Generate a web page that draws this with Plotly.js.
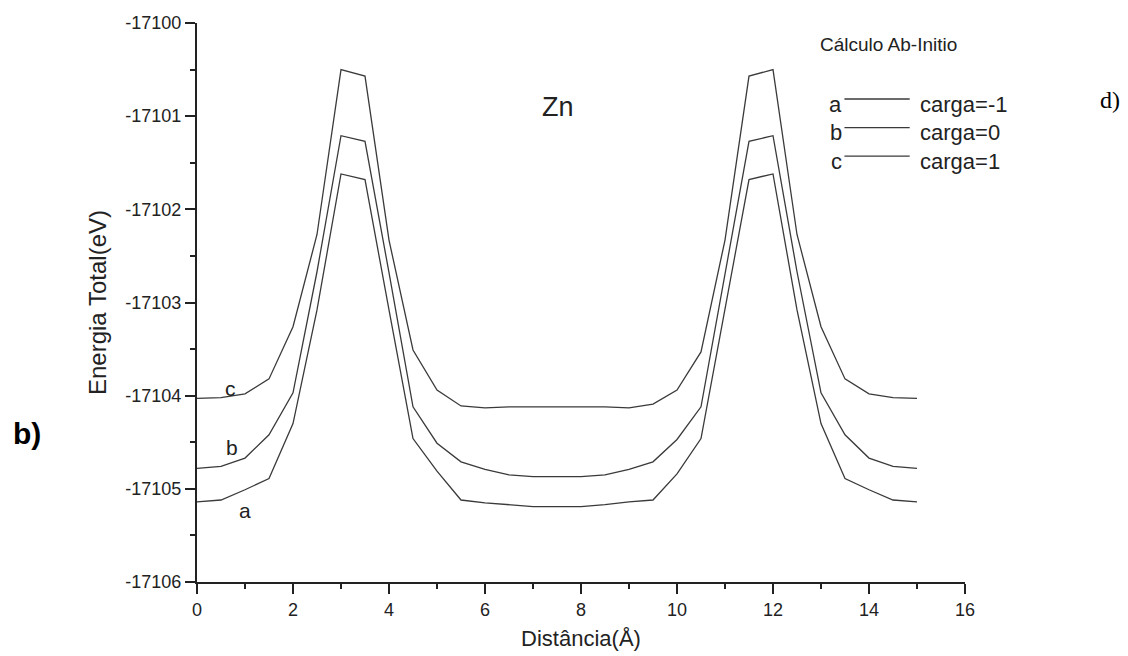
<!DOCTYPE html>
<html>
<head>
<meta charset="utf-8">
<script src="https://cdn.plot.ly/plotly-3.0.1.min.js"></script>
<style>
  html, body { margin: 0; padding: 0; background: #fff; }
  #chart { width: 1128px; height: 656px; }
</style>
</head>
<body>
<div id="chart"></div>
<script>
// Distance along the path (Å)
const distancia = [0, 0.5, 1, 1.5, 2, 2.5, 3, 3.5, 4, 4.5, 5, 5.5, 6, 6.5, 7, 7.5,
                   8, 8.5, 9, 9.5, 10, 10.5, 11, 11.5, 12, 12.5, 13, 13.5, 14, 14.5, 15];

// Total energy (eV), charge = -1  (curve a)
const energiaA = [-17105.14, -17105.12, -17105.01, -17104.89, -17104.30, -17103.08, -17101.62, -17101.68,
                  -17103.08, -17104.46, -17104.81, -17105.12, -17105.15, -17105.17, -17105.19, -17105.19,
                  -17105.19, -17105.17, -17105.14, -17105.12, -17104.84, -17104.46, -17103.08, -17101.68,
                  -17101.62, -17103.08, -17104.30, -17104.89, -17105.01, -17105.12, -17105.14];

// Total energy (eV), charge = 0  (curve b)
const energiaB = [-17104.78, -17104.76, -17104.67, -17104.42, -17103.97, -17102.67, -17101.21, -17101.27,
                  -17102.68, -17104.12, -17104.51, -17104.71, -17104.79, -17104.85, -17104.87, -17104.87,
                  -17104.87, -17104.85, -17104.79, -17104.71, -17104.47, -17104.12, -17102.68, -17101.27,
                  -17101.21, -17102.67, -17103.97, -17104.42, -17104.67, -17104.76, -17104.78];

// Total energy (eV), charge = 1  (curve c)
const energiaC = [-17104.03, -17104.02, -17103.98, -17103.82, -17103.26, -17102.27, -17100.50, -17100.57,
                  -17102.33, -17103.51, -17103.94, -17104.11, -17104.13, -17104.12, -17104.12, -17104.12,
                  -17104.12, -17104.12, -17104.13, -17104.09, -17103.94, -17103.53, -17102.33, -17100.57,
                  -17100.50, -17102.27, -17103.26, -17103.82, -17103.98, -17104.02, -17104.03];

const curveNames = ['a', 'b', 'c'];
const curveLabels = ['carga=-1', 'carga=0', 'carga=1'];

const yTickVals = [-17106, -17105, -17104, -17103, -17102, -17101, -17100];
const yTickText = ['-17106', '-17105', '-17104', '-17103', '-17102', '-17101', '-17100'];

const FONT = 'Liberation Sans, Arial, Helvetica, sans-serif';
const INK = '#222222';
const LINE = '#3a3a3a';

const series = [energiaA, energiaB, energiaC];
const traces = series.map((ys, i) => ({
  type: 'scatter',
  mode: 'lines',
  x: distancia,
  y: ys,
  name: curveLabels[i],
  line: { color: LINE, width: 1.3 },
  hoverinfo: 'x+y+name'
}));

// In-plot key rows (paper fractions of the plot area)
const keyRows = [0.855, 0.805, 0.753];
const keyLineRows = [0.864, 0.813, 0.762];

const annotations = [];
const shapes = [];

curveNames.forEach((nm, i) => {
  annotations.push({
    xref: 'paper', yref: 'paper', x: 0.843, y: keyRows[i],
    xanchor: 'right', yanchor: 'middle', showarrow: false,
    text: nm, font: { family: FONT, size: 22, color: INK }
  });
  annotations.push({
    xref: 'paper', yref: 'paper', x: 0.939, y: keyRows[i],
    xanchor: 'left', yanchor: 'middle', showarrow: false,
    text: curveLabels[i], font: { family: FONT, size: 22, color: INK }
  });
  shapes.push({
    type: 'line', xref: 'paper', yref: 'paper',
    x0: 0.843, x1: 0.928, y0: keyLineRows[i], y1: keyLineRows[i],
    line: { color: LINE, width: 1.3 }
  });
});

annotations.push(
  { xref: 'paper', yref: 'paper', x: 0.808, y: 0.962, xanchor: 'left', yanchor: 'middle',
    showarrow: false, text: 'Cálculo Ab-Initio', font: { family: FONT, size: 19, color: INK } },
  { xref: 'paper', yref: 'paper', x: 0.470, y: 0.850, xanchor: 'center', yanchor: 'middle',
    showarrow: false, text: 'Zn', font: { family: FONT, size: 27, color: INK } },
  { xref: 'paper', yref: 'paper', x: 1.189, y: 0.862, xanchor: 'center', yanchor: 'middle',
    showarrow: false, text: 'd)', font: { family: 'Liberation Serif, Times New Roman, serif', size: 24, color: '#000' } },
  { xref: 'paper', yref: 'paper', x: -0.221, y: 0.2665, xanchor: 'center', yanchor: 'middle',
    showarrow: false, text: '<b>b)</b>', font: { family: FONT, size: 30, color: '#000' } },
  // curve tags next to the left ends
  { x: 0.69, y: -17103.92, showarrow: false, text: 'c', font: { family: FONT, size: 21, color: INK } },
  { x: 0.72, y: -17104.56, showarrow: false, text: 'b', font: { family: FONT, size: 21, color: INK } },
  { x: 1.00, y: -17105.23, showarrow: false, text: 'a', font: { family: FONT, size: 21, color: INK } }
);

const layout = {
  width: 1128,
  height: 656,
  paper_bgcolor: '#ffffff',
  plot_bgcolor: '#ffffff',
  margin: { l: 197, r: 163, t: 23, b: 74, pad: 0 },
  showlegend: false,
  font: { family: FONT, color: INK },
  xaxis: {
    range: [0, 16],
    autorange: false,
    tickmode: 'linear', tick0: 0, dtick: 2,
    ticks: 'outside', ticklen: 10, tickwidth: 2, tickcolor: INK,
    minor: { tickmode: 'linear', tick0: 0, dtick: 1, ticks: 'outside', ticklen: 5, tickwidth: 2, tickcolor: INK, showgrid: false },
    showline: true, linecolor: INK, linewidth: 2,
    showgrid: false, zeroline: false,
    tickfont: { family: FONT, size: 18, color: INK },
    title: { text: 'Distância(Å)', font: { family: FONT, size: 22, color: INK }, standoff: 12 }
  },
  yaxis: {
    range: [-17106, -17100],
    autorange: false,
    tickmode: 'array', tickvals: yTickVals, ticktext: yTickText,
    ticks: 'outside', ticklen: 10, tickwidth: 2, tickcolor: INK,
    minor: { tickmode: 'linear', tick0: -17106, dtick: 0.5, ticks: 'outside', ticklen: 5, tickwidth: 2, tickcolor: INK, showgrid: false },
    showline: true, linecolor: INK, linewidth: 2,
    showgrid: false, zeroline: false,
    tickfont: { family: FONT, size: 18, color: INK },
    title: { text: 'Energia Total(eV)', font: { family: FONT, size: 24, color: INK }, standoff: 12 }
  },
  annotations: annotations,
  shapes: shapes
};

Plotly.newPlot('chart', traces, layout, { displayModeBar: false, staticPlot: true });
</script>
</body>
</html>
